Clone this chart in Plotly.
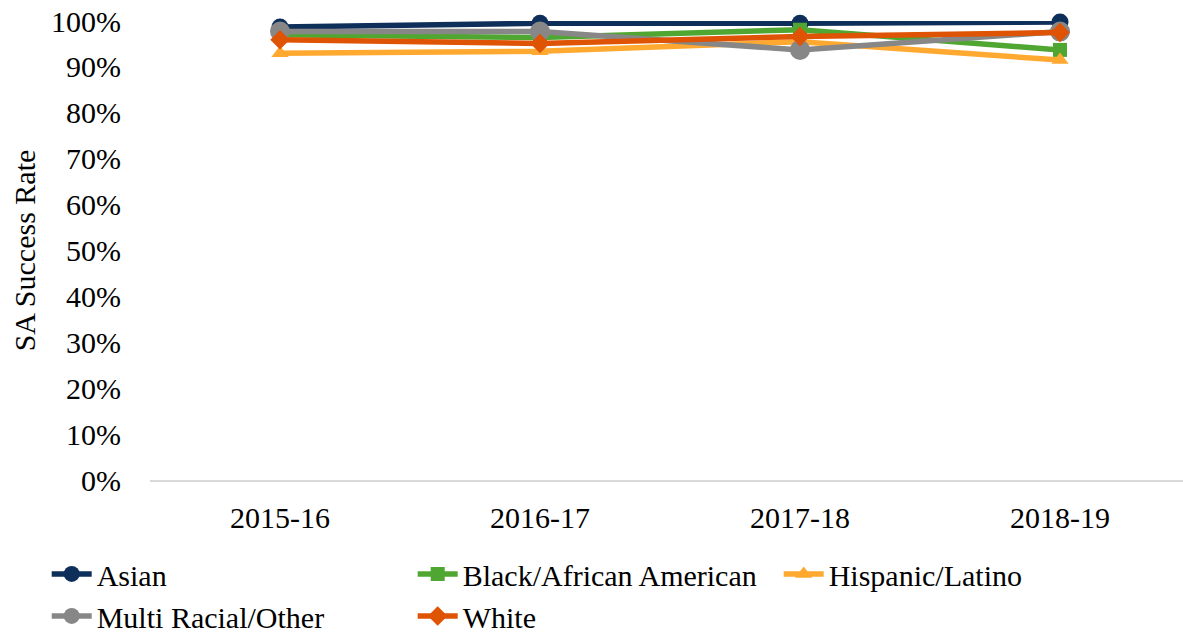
import plotly.graph_objects as go

# School years on the x axis
years = ["2015-16", "2016-17", "2017-18", "2018-19"]

# SA success rate by student group (fractions of 1)
asian = [0.987, 0.995, 0.995, 0.998]
black = [0.970, 0.964, 0.981, 0.937]
hispanic = [0.930, 0.934, 0.955, 0.915]
multi = [0.977, 0.977, 0.937, 0.977]
white = [0.959, 0.951, 0.966, 0.975]

series = [
    ("Asian", asian, "#0E2F5A", "circle", 17),
    ("Black/African American", black, "#4FA732", "square", 14),
    ("Hispanic/Latino", hispanic, "#FFA931", "triangle-up", 15),
    ("Multi Racial/Other", multi, "#878787", "circle", 20),
    ("White", white, "#DF5305", "diamond", 15),
]

FONT = "Liberation Serif"

fig = go.Figure()
for name, vals, color, symbol, size in series:
    fig.add_trace(go.Scatter(
        x=years, y=vals, name=name, mode="lines+markers",
        line=dict(color=color, width=5.5),
        marker=dict(color=color, symbol=symbol, size=size),
        cliponaxis=False,
    ))

fig.update_layout(
    width=1183, height=642,
    margin=dict(l=150, r=0, t=21, b=162),
    paper_bgcolor="white", plot_bgcolor="white",
    font=dict(family=FONT, size=30, color="#000000"),
    showlegend=True,
    legend=dict(
        orientation="h", xref="paper", yref="paper",
        x=-0.1, y=-0.148, xanchor="left", yanchor="top",
        entrywidth=311, entrywidthmode="pixels",
        font=dict(family=FONT, size=30),
        itemwidth=40, traceorder="normal",
    ),
)
fig.update_xaxes(
    type="category", range=[-0.5, 3.473],
    showline=True, linecolor="#D9D9D9", linewidth=2,
    showgrid=False, ticks="", ticklabelstandoff=10,
    tickfont=dict(size=30),
)
fig.update_yaxes(
    range=[0, 1.0], dtick=0.1, tickformat=".0%",
    showgrid=False, zeroline=False, showline=False,
    ticks="", ticklabelstandoff=28,
    tickfont=dict(size=30),
    title=dict(text="SA Success Rate", standoff=6, font=dict(size=30)),
)

fig.write_html("out.html")
